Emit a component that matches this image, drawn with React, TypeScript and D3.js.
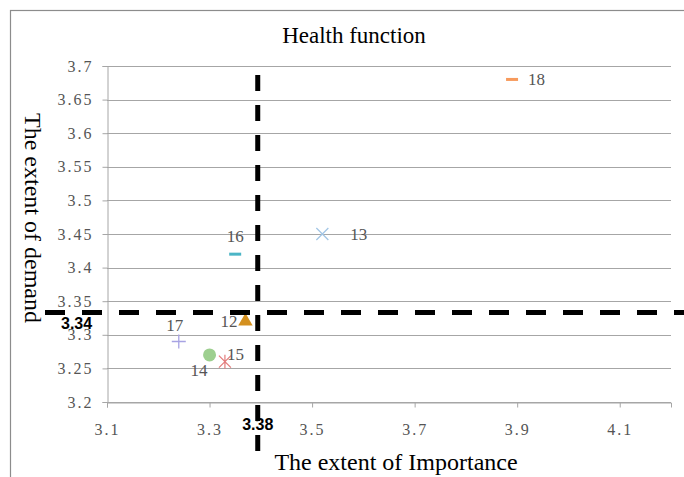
import { useEffect, useRef } from 'react';
import * as d3 from 'd3';

// point ids, importance (x) and demand (y)
const ids = ['12', '13', '14', '15', '16', '17', '18'];
const importance = [3.37, 3.52, 3.30, 3.33, 3.35, 3.24, 3.89];
const demand = [3.32, 3.45, 3.27, 3.26, 3.42, 3.29, 3.68];
const markers = ['triangle', 'cross', 'circle', 'asterisk', 'dash', 'plus', 'dash'];
const colors = ['#d4901f', '#a3c6e6', '#9dcf8f', '#e27c7c', '#4bb5c6', '#a7a3e3', '#f79a5c'];

const xTicks = [3.1, 3.3, 3.5, 3.7, 3.9, 4.1];
const yTicks = [3.2, 3.25, 3.3, 3.35, 3.4, 3.45, 3.5, 3.55, 3.6, 3.65, 3.7];

// hand-drawn reference lines (positions as placed in the figure) and their labels
const refX = 3.394;
const refY = 3.333;
const refXLabel = '3.38';
const refYLabel = '3.34';

const W = 684;
const H = 477;

export default function App() {
  const ref = useRef<SVGSVGElement>(null);

  useEffect(() => {
    if (!ref.current) return;
    const svg = d3.select(ref.current);
    svg.selectAll('*').remove();

    const m = { left: 107, right: 671, top: 66, bottom: 402 };
    const x = d3.scaleLinear().domain([3.1, 4.2]).range([m.left, m.right]);
    const y = d3.scaleLinear().domain([3.2, 3.7]).range([m.bottom, m.top]);
    const serif = "'Liberation Serif', 'DejaVu Serif', serif";

    // frame
    svg.append('rect')
      .attr('x', 10.5).attr('y', 10.5)
      .attr('width', 700).attr('height', 500)
      .attr('fill', 'white').attr('stroke', '#8c8c8c').attr('stroke-width', 1.2);

    // title
    svg.append('text')
      .attr('x', 354).attr('y', 43)
      .attr('text-anchor', 'middle')
      .style('font-family', serif).style('font-size', '23px')
      .text('Health function');

    // gridlines
    svg.append('g').selectAll('line').data(yTicks).join('line')
      .attr('x1', m.left).attr('x2', m.right)
      .attr('y1', d => Math.round(y(d)) + 0.5).attr('y2', d => Math.round(y(d)) + 0.5)
      .attr('stroke', '#a6a6a6').attr('stroke-width', 1);

    // y axis
    const yAxis = svg.append('g')
      .attr('transform', `translate(${m.left + 0.5},0)`)
      .call(d3.axisLeft(y).tickValues(yTicks).tickSize(5).tickPadding(9).tickFormat(d => String(+d)))
      .attr('font-family', serif).attr('font-size', 16);
    yAxis.select('.domain').attr('stroke', '#a6a6a6');
    yAxis.selectAll('.tick line').attr('stroke', '#a6a6a6');
    yAxis.selectAll('.tick text')
      .attr('fill', '#555').attr('font-family', serif).attr('font-size', 16)
      .attr('letter-spacing', 2);

    // x axis
    const xAxis = svg.append('g')
      .attr('transform', `translate(0,${m.bottom + 0.5})`)
      .call(d3.axisBottom(x).tickValues(xTicks).tickSize(5).tickPadding(16).tickFormat(d => String(+d)))
      .attr('font-family', serif).attr('font-size', 16);
    xAxis.select('.domain').attr('stroke', '#a6a6a6');
    xAxis.selectAll('.tick line').attr('stroke', '#a6a6a6');
    xAxis.selectAll('.tick text')
      .attr('fill', '#555').attr('font-family', serif).attr('font-size', 16)
      .attr('letter-spacing', 2);

    // axis titles
    svg.append('text')
      .attr('x', 396).attr('y', 470)
      .attr('text-anchor', 'middle')
      .style('font-family', serif).style('font-size', '24px')
      .text('The extent of Importance');
    svg.append('text')
      .attr('transform', `translate(25,218) rotate(90)`)
      .attr('text-anchor', 'middle')
      .style('font-family', serif).style('font-size', '24px')
      .text('The extent of demand');

    // points
    const g = svg.append('g');
    ids.forEach((id, i) => {
      const px = x(importance[i]);
      const py = y(demand[i]);
      const c = colors[i];
      const kind = markers[i];
      if (kind === 'triangle') {
        g.append('path').attr('d', d3.symbol(d3.symbolTriangle, 90)())
          .attr('transform', `translate(${px},${py})`).attr('fill', c);
      } else if (kind === 'circle') {
        g.append('circle').attr('cx', px).attr('cy', py).attr('r', 6.5).attr('fill', c);
      } else if (kind === 'cross') {
        g.append('path').attr('d', `M${px - 6},${py - 6}L${px + 6},${py + 6}M${px - 6},${py + 6}L${px + 6},${py - 6}`)
          .attr('stroke', c).attr('stroke-width', 1.3);
      } else if (kind === 'plus') {
        g.append('path').attr('d', `M${px - 7},${py}L${px + 7},${py}M${px},${py - 7}L${px},${py + 7}`)
          .attr('stroke', c).attr('stroke-width', 1.3);
      } else if (kind === 'asterisk') {
        g.append('path').attr('d', `M${px - 6},${py - 6}L${px + 6},${py + 6}M${px - 6},${py + 6}L${px + 6},${py - 6}M${px},${py - 7}L${px},${py + 7}`)
          .attr('stroke', c).attr('stroke-width', 1.2);
      } else {
        g.append('line').attr('x1', px - 6).attr('x2', px + 6).attr('y1', py).attr('y2', py)
          .attr('stroke', c).attr('stroke-width', 3);
      }
    });

    // point labels
    const labelOffset: Record<string, [number, number, string]> = {
      '12': [-8, 6, 'end'],
      '13': [28, 6, 'start'],
      '14': [-2, 21, 'end'],
      '15': [2, -2, 'start'],
      '16': [0, -12, 'middle'],
      '17': [-4, -11, 'middle'],
      '18': [16, 6, 'start'],
    };
    ids.forEach((id, i) => {
      const [dx, dy, anchor] = labelOffset[id];
      g.append('text')
        .attr('x', x(importance[i]) + dx).attr('y', y(demand[i]) + dy)
        .attr('text-anchor', anchor)
        .attr('fill', '#555')
        .style('font-family', serif).style('font-size', '17px')
        .text(id);
    });

    // reference lines
    const rx = x(refX);
    const ry = y(refY);
    svg.append('line')
      .attr('x1', rx).attr('x2', rx).attr('y1', 75).attr('y2', 452)
      .attr('stroke', 'black').attr('stroke-width', 5).attr('stroke-dasharray', '16 14');
    svg.append('line')
      .attr('x1', 45).attr('x2', 690).attr('y1', ry).attr('y2', ry)
      .attr('stroke', 'black').attr('stroke-width', 5).attr('stroke-dasharray', '20 17');

    const sans = "'Liberation Sans', Arial, sans-serif";
    svg.append('text')
      .attr('x', 61).attr('y', ry + 16)
      .style('font-family', sans).style('font-size', '16px').style('font-weight', 'bold')
      .text(refYLabel);
    svg.append('text')
      .attr('x', rx).attr('y', 430)
      .attr('text-anchor', 'middle')
      .style('font-family', sans).style('font-size', '16px').style('font-weight', 'bold')
      .text(refXLabel);
  }, []);

  return (
    <svg
      ref={ref}
      width={W}
      height={H}
      style={{ position: 'absolute', left: 0, top: 0, background: 'white' }}
    />
  );
}
